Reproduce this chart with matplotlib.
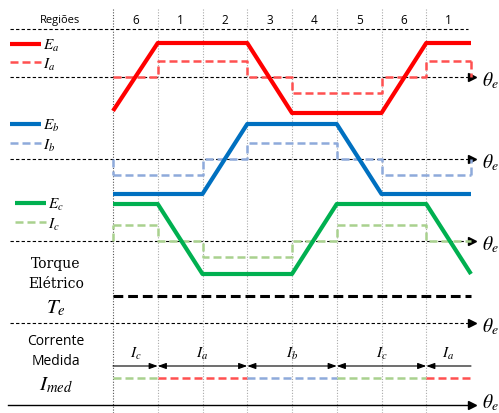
import matplotlib
matplotlib.use('Agg')
import matplotlib.pyplot as plt
import numpy as np

plt.rcParams['mathtext.fontset'] = 'stix'

# dados (graus elétricos)
theta = [0, 60, 120, 180, 240, 300, 360, 420, 480]
regioes = ['6', '1', '2', '3', '4', '5', '6', '1']
# FEMs trapezoidais (valor normalizado em cada ponto de theta)
Ea = [-0.94, 1, 1, 1, -1, -1, -1, 1, 1]
Eb = [-1, -1, -1, 1, 1, 1, -1, -1, -1]
Ec = [1, 1, -1, -1, -1, 1, 1, 1, -1]
# correntes (valor por região)
Ia = [0, 1, 1, 0, -1, -1, 0, 1]
Ib = [-1, -1, 0, 1, 1, 0, -1, -1]
Ic = [1, 0, -1, -1, 0, 1, 1, 0]
# corrente medida: fase em cada intervalo
imed_fase = ['c', 'a', 'b', 'c', 'a']
imed_ini = [0, 60, 180, 300, 420]
imed_fim = [60, 180, 300, 420, 480]

cores_E = {'a': '#ff0000', 'b': '#0070c0', 'c': '#00b050'}
cores_I = {'a': '#ff5050', 'b': '#8eaadb', 'c': '#a9d18e'}

X0, PXDEG = 113.0, 358.0 / 480.0
W, H = 499, 414


def tx(px):
    return (px - X0) / PXDEG


fig = plt.figure(figsize=(W / 100, H / 100), dpi=100)
ax = fig.add_axes([0, 0, 1, 1])
ax.set_xlim(tx(0), tx(W))
ax.set_ylim(H, 0)
ax.axis('off')

# linhas verticais das regiões
for i, t in enumerate(theta[:-1]):
    ax.plot([t, t], [10, H], ls=(0, (1, 1.5)), lw=0.8,
            color='#555555' if i == 0 else '#aaaaaa', zorder=1)

# cabeçalho
ax.plot([tx(10), tx(468)], [30, 30], 'k--', lw=0.8, dashes=(3, 2))
ax.text(tx(60), 20, 'Regiões', ha='center', va='center', fontsize=8,
        family='Open Sans')
for i, r in enumerate(regioes):
    ax.text((theta[i] + theta[i + 1]) / 2, 20, r, ha='center', va='center',
            fontsize=8.5, family='Open Sans')

# eixos theta_e
for y in [78, 160, 242, 324]:
    ax.plot([tx(10), tx(468)], [y, y], 'k--', lw=0.8, dashes=(3, 2))
    ax.plot(tx(472), y, marker='>', color='k', ms=6)
    ax.text(tx(482), y + 3, r'$\theta_e$', fontsize=14, va='center')
ax.plot([tx(8), tx(468)], [406, 406], 'k-', lw=1.0)
ax.plot(tx(472), 406, marker='>', color='k', ms=6)
ax.text(tx(482), 403, r'$\theta_e$', fontsize=14, va='center')

AMP_E, AMP_I = 35, 16
fases = [('a', Ea, Ia, 79, 45, 63, 10), ('b', Eb, Ib, 160, 125, 144, 10),
         ('c', Ec, Ic, 240, 204, 223, 15)]
for f, E, I, y0, yl_e, yl_i, xl in fases:
    ax.plot(theta, y0 - AMP_E * np.array(E), color=cores_E[f], lw=3,
            solid_capstyle='butt', zorder=3)
    yi = 78 if f == 'a' else (160 if f == 'b' else 242)
    vals = np.array(I + [I[-1]])
    ax.step(theta, yi - AMP_I * vals, where='post', color=cores_I[f], lw=1.8,
            dashes=(3.2, 1.6), zorder=2)
    if I[0] != 0:
        ax.plot([0, 0], [yi, yi - AMP_I * I[0]], color=cores_I[f], lw=1.8,
                dashes=(3.2, 1.6), zorder=2)
    if I[-1] != 0:
        ax.plot([480, 480], [yi - AMP_I * I[-1], yi], color=cores_I[f],
                lw=1.8, dashes=(3.2, 1.6), zorder=2)
    # legenda
    ax.plot([tx(xl), tx(xl + 31)], [yl_e, yl_e], color=cores_E[f], lw=3,
            solid_capstyle='butt')
    ax.plot([tx(xl), tx(xl + 31)], [yl_i, yl_i], color=cores_I[f], lw=1.8,
            dashes=(3.2, 1.6))
    ax.text(tx(xl + 33), yl_e + 1, '$E_%s$' % f, fontsize=11, va='center')
    ax.text(tx(xl + 33), yl_i + 2, '$I_%s$' % f, fontsize=11, va='center')

# torque
ax.plot([0, 480], [297, 297], color='k', lw=2.2, dashes=(3.2, 1.6))
ax.text(tx(56), 264, 'Torque', ha='center', va='center', fontsize=10,
        family='DejaVu Serif')
ax.text(tx(56), 284, 'Elétrico', ha='center', va='center', fontsize=10,
        family='DejaVu Serif')
ax.text(tx(56), 308, '$T_e$', ha='center', va='center', fontsize=15)

# corrente medida
ax.text(tx(56), 342, 'Corrente', ha='center', va='center', fontsize=10,
        family='Open Sans')
ax.text(tx(56), 362, 'Medida', ha='center', va='center', fontsize=10,
        family='Open Sans')
ax.text(tx(56), 385, '$I_{med}$', ha='center', va='center', fontsize=15)
for k, (f, a, b) in enumerate(zip(imed_fase, imed_ini, imed_fim)):
    ax.plot([a, b], [379, 379], color=cores_I[f], lw=1.8, dashes=(3.2, 1.6))
    if k == 0:
        estilo = '-|>'
    elif k == len(imed_fase) - 1:
        estilo = '<|-'
    else:
        estilo = '<|-|>'
    ax.annotate('', xy=(b, 367), xytext=(a, 367),
                arrowprops=dict(arrowstyle=estilo + ',head_length=0.5,head_width=0.18',
                                color='k', lw=0.8, shrinkA=0, shrinkB=0))
    ax.text((a + b) / 2, 354, '$I_%s$' % f, ha='center', va='center',
            fontsize=11)

fig.savefig('out.png', dpi=100)
